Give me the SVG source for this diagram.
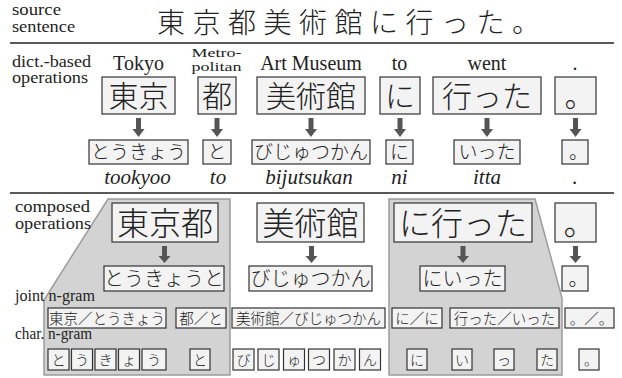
<svg xmlns="http://www.w3.org/2000/svg" xmlns:xlink="http://www.w3.org/1999/xlink" width="622" height="378" viewBox="0 0 622 378">
<style>
.lbl{font-family:'Liberation Serif','Times New Roman',serif;font-size:16px;fill:#222}
.gl{font-family:'Liberation Serif','Times New Roman',serif;font-size:20px;fill:#222;text-anchor:middle}
.rom{font-family:'Liberation Serif','Times New Roman',serif;font-size:21px;font-style:italic;fill:#222;text-anchor:middle}
.box{fill:#f3f3f3;stroke:#333;stroke-width:1.2}
.jp{font-family:'Noto Sans CJK JP','Noto Sans CJK SC',sans-serif;fill:#222;text-anchor:middle;font-weight:300}
.f30{font-size:30px}.f32{font-size:32px}.f19{font-size:19px}.f20{font-size:20px}.f15{font-size:14.5px}.f14{font-size:14px}
.poly{fill:#d3d3d3;stroke:#9c9c9c;stroke-width:1.5}
.sep{stroke:#222;stroke-width:1.5}
.arr{fill:#555}
</style>
<defs>
<path id="arrow" class="arr" d="M-2.5,0 H2.5 V11 H6 L0,19 L-6,11 H-2.5 Z"/>
<path id="arrow2" class="arr" d="M-2.5,0 H2.5 V10 H6 L0,17 L-6,10 H-2.5 Z"/>
</defs>

<!-- gray composed regions -->
<g id="region-left"><polygon class="poly" points="108,199 230,199 230,375 44,375 44,300"/></g>
<g id="region-right"><polygon class="poly" points="389,199 535,199 562,298 562,375 389,375"/></g>

<!-- separators -->
<line class="sep" x1="10" y1="43" x2="614" y2="43"/>
<line class="sep" x1="10" y1="193" x2="614" y2="193"/>

<!-- row labels -->
<g id="labels">
<text class="lbl" x="12" y="15" textLength="49" lengthAdjust="spacingAndGlyphs">source</text>
<text class="lbl" x="12" y="32" textLength="63" lengthAdjust="spacingAndGlyphs">sentence</text>
<text class="lbl" x="12" y="67" textLength="79" lengthAdjust="spacingAndGlyphs">dict.-based</text>
<text class="lbl" x="12" y="83" textLength="76" lengthAdjust="spacingAndGlyphs">operations</text>
<text class="lbl" x="15" y="212" textLength="75" lengthAdjust="spacingAndGlyphs">composed</text>
<text class="lbl" x="15" y="229" textLength="76" lengthAdjust="spacingAndGlyphs">operations</text>
<text class="lbl" x="15" y="301" textLength="80" lengthAdjust="spacingAndGlyphs">joint n-gram</text>
<text class="lbl" x="15" y="339" textLength="77" lengthAdjust="spacingAndGlyphs">char. n-gram</text>
</g>

<!-- source sentence -->
<g id="source"><text class="jp" style="text-anchor:start;font-size:28px;letter-spacing:7.5px" x="157" y="33">東京都美術館に行った。</text></g>

<!-- glosses -->
<g id="glosses">
<text class="gl" x="138.5" y="70">Tokyo</text>
<text class="gl" style="font-size:13.5px" x="216.5" y="57" textLength="50" lengthAdjust="spacingAndGlyphs">Metro-</text>
<text class="gl" style="font-size:13.5px" x="216.5" y="71" textLength="50" lengthAdjust="spacingAndGlyphs">politan</text>
<text class="gl" x="311" y="70">Art Museum</text>
<text class="gl" x="399.5" y="70">to</text>
<text class="gl" x="487" y="70">went</text>
<text class="gl" x="575" y="70">.</text>
</g>

<!-- dict-based operation nodes -->
<g id="d-tokyo"><rect class="box" x="102" y="77" width="73" height="37"/><text class="jp f30" x="138.5" y="107">東京</text></g>
<g id="d-to"><rect class="box" x="198" y="77" width="38" height="37"/><text class="jp f30" x="217" y="107">都</text></g>
<g id="d-bijutsukan"><rect class="box" x="257" y="77" width="108" height="37"/><text class="jp f30" x="311" y="107">美術館</text></g>
<g id="d-ni"><rect class="box" x="380" y="77" width="40" height="37"/><text class="jp f30" x="400" y="107">に</text></g>
<g id="d-itta"><rect class="box" x="433" y="77" width="108" height="37"/><text class="jp f30" x="487" y="107">行った</text></g>
<g id="d-maru"><rect class="box" x="555" y="77" width="41" height="37"/><text class="jp f30" x="579.5" y="107">。</text></g>

<g id="r-tokyo"><rect class="box" x="89" y="140" width="99" height="24"/><text class="jp f19" x="138.5" y="159">とうきょう</text></g>
<g id="r-to"><rect class="box" x="203" y="140" width="28" height="24"/><text class="jp f19" x="217" y="159">と</text></g>
<g id="r-bijutsukan"><rect class="box" x="252" y="140" width="118" height="24"/><text class="jp f19" x="311" y="159">びじゅつかん</text></g>
<g id="r-ni"><rect class="box" x="386" y="140" width="27" height="24"/><text class="jp f19" x="399.5" y="159">に</text></g>
<g id="r-itta"><rect class="box" x="454" y="140" width="66" height="24"/><text class="jp f19" x="487" y="159">いった</text></g>
<g id="r-maru"><rect class="box" x="562" y="140" width="26" height="24"/><text class="jp f19" x="578.5" y="159">。</text></g>

<g id="romanization">
<text class="rom" x="137.5" y="184">tookyoo</text>
<text class="rom" x="218" y="184">to</text>
<text class="rom" x="309" y="184">bijutsukan</text>
<text class="rom" x="399.5" y="184">ni</text>
<text class="rom" x="487" y="184">itta</text>
<text class="rom" x="575" y="184">.</text>
</g>

<!-- composed nodes -->
<g id="c-tokyoto"><rect class="box" x="112" y="203" width="106" height="39"/><text class="jp f32" x="165" y="235">東京都</text></g>
<g id="c-bijutsukan"><rect class="box" x="257" y="203" width="107" height="39"/><text class="jp f32" x="310.5" y="235">美術館</text></g>
<g id="c-niitta"><rect class="box" x="394" y="203" width="138" height="39"/><text class="jp f32" x="463" y="235">に行った</text></g>
<g id="c-maru"><rect class="box" x="555" y="203" width="41" height="39"/><text class="jp f32" x="579.5" y="235">。</text></g>

<g id="cr-tokyoto"><rect class="box" x="104" y="266" width="120" height="25"/><text class="jp f20" x="164" y="286">とうきょうと</text></g>
<g id="cr-bijutsukan"><rect class="box" x="249" y="266" width="123" height="25"/><text class="jp f20" x="310.5" y="286">びじゅつかん</text></g>
<g id="cr-niitta"><rect class="box" x="420" y="266" width="85" height="25"/><text class="jp f20" x="462.5" y="286">にいった</text></g>
<g id="cr-maru"><rect class="box" x="562" y="266" width="26" height="25"/><text class="jp f20" x="578.5" y="286">。</text></g>

<!-- joint n-gram nodes -->
<g id="j1"><rect class="box" x="48" y="308" width="118" height="20"/><text class="jp f15" x="107" y="323.5">東京／とうきょう</text></g>
<g id="j2"><rect class="box" x="176" y="308" width="50" height="20"/><text class="jp f15" x="201" y="323.5">都／と</text></g>
<g id="j3"><rect class="box" x="232" y="308" width="153" height="20"/><text class="jp f15" x="308.5" y="323.5">美術館／びじゅつかん</text></g>
<g id="j4"><rect class="box" x="392" y="308" width="50" height="20"/><text class="jp f15" x="417" y="323.5">に／に</text></g>
<g id="j5"><rect class="box" x="450" y="308" width="109" height="20"/><text class="jp f15" x="504.5" y="323.5">行った／いった</text></g>
<g id="j6"><rect class="box" x="565" y="308" width="49" height="20"/><text class="jp f15" x="591.5" y="323.5">。／。</text></g>

<!-- char n-gram nodes -->
<g id="ch-1"><rect class="box" x="48" y="349" width="21" height="21"/><text class="jp f14" x="58.5" y="364.5">と</text></g>
<g id="ch-2"><rect class="box" x="71.5" y="349" width="21" height="21"/><text class="jp f14" x="82" y="364.5">う</text></g>
<g id="ch-3"><rect class="box" x="95" y="349" width="21" height="21"/><text class="jp f14" x="105.5" y="364.5">き</text></g>
<g id="ch-4"><rect class="box" x="118.5" y="349" width="21" height="21"/><text class="jp f14" x="129" y="364.5">ょ</text></g>
<g id="ch-5"><rect class="box" x="142" y="349" width="24" height="21"/><text class="jp f14" x="154" y="364.5">う</text></g>
<g id="ch-6"><rect class="box" x="190" y="349" width="20" height="21"/><text class="jp f14" x="200" y="364.5">と</text></g>
<g id="ch-7"><rect class="box" x="233" y="349" width="21" height="21"/><text class="jp f14" x="243.5" y="364.5">び</text></g>
<g id="ch-8"><rect class="box" x="258" y="349" width="21" height="21"/><text class="jp f14" x="268.5" y="364.5">じ</text></g>
<g id="ch-9"><rect class="box" x="283.5" y="349" width="21" height="21"/><text class="jp f14" x="294" y="364.5">ゅ</text></g>
<g id="ch-10"><rect class="box" x="308.5" y="349" width="21" height="21"/><text class="jp f14" x="319" y="364.5">つ</text></g>
<g id="ch-11"><rect class="box" x="334" y="349" width="21" height="21"/><text class="jp f14" x="344.5" y="364.5">か</text></g>
<g id="ch-12"><rect class="box" x="359.5" y="349" width="21" height="21"/><text class="jp f14" x="370" y="364.5">ん</text></g>
<g id="ch-13"><rect class="box" x="407" y="349" width="20" height="21"/><text class="jp f14" x="417" y="364.5">に</text></g>
<g id="ch-14"><rect class="box" x="452" y="349" width="20" height="21"/><text class="jp f14" x="462" y="364.5">い</text></g>
<g id="ch-15"><rect class="box" x="494" y="349" width="20" height="21"/><text class="jp f14" x="504" y="364.5">っ</text></g>
<g id="ch-16"><rect class="box" x="537" y="349" width="20" height="21"/><text class="jp f14" x="547" y="364.5">た</text></g>
<g id="ch-17"><rect class="box" x="579" y="349" width="20" height="21"/><text class="jp f14" x="591" y="364.5">。</text></g>

<!-- connectors -->
<g id="connectors">
<use xlink:href="#arrow" x="138.5" y="118"/>
<use xlink:href="#arrow" x="217" y="118"/>
<use xlink:href="#arrow" x="311" y="118"/>
<use xlink:href="#arrow" x="400" y="118"/>
<use xlink:href="#arrow" x="487" y="118"/>
<use xlink:href="#arrow" x="575.5" y="118"/>
<use xlink:href="#arrow2" x="164.5" y="246"/>
<use xlink:href="#arrow2" x="311.5" y="246"/>
<use xlink:href="#arrow2" x="463" y="246"/>
<use xlink:href="#arrow2" x="575.5" y="246"/>
</g>
</svg>
